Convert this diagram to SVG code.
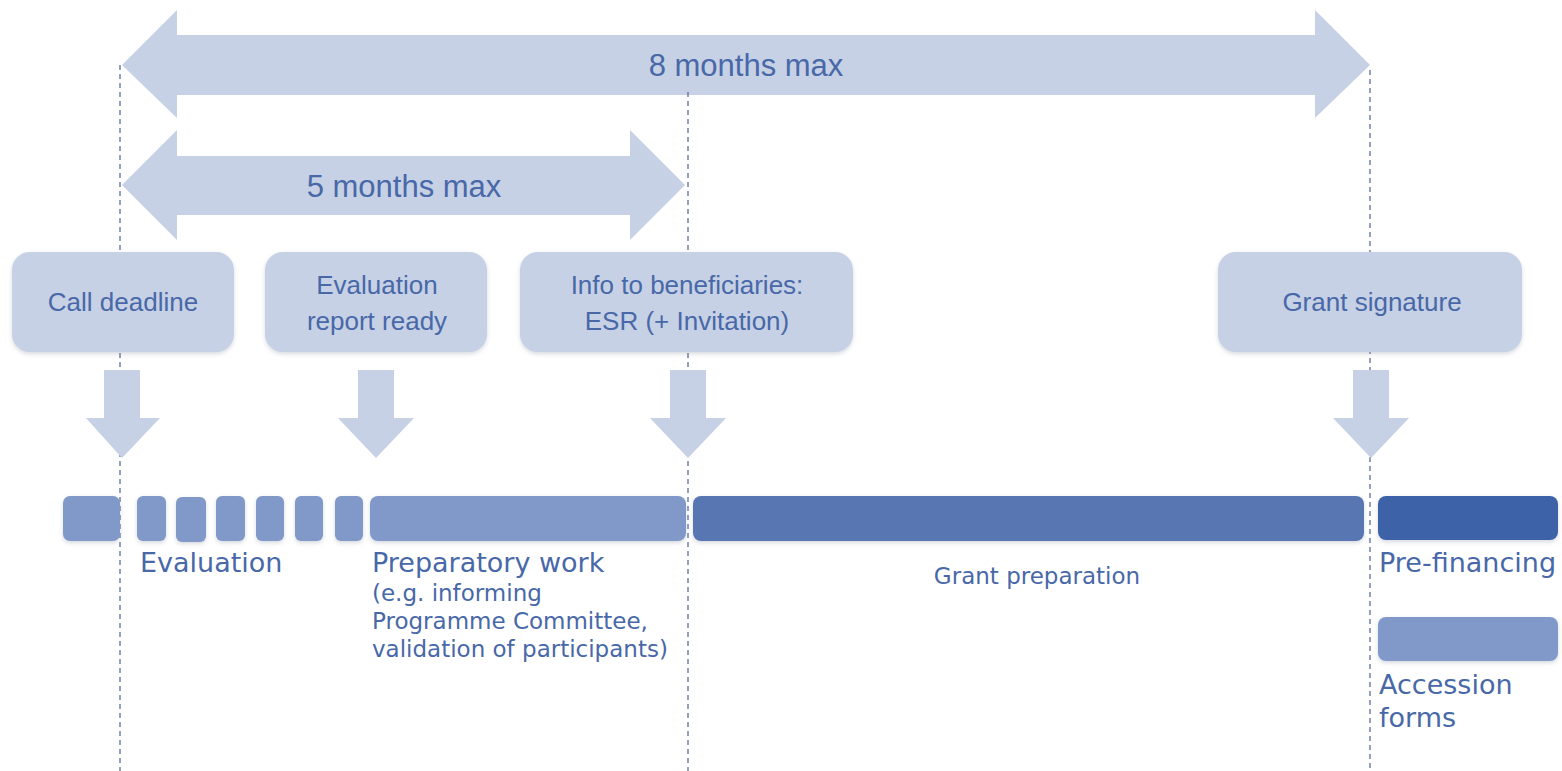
<svg xmlns="http://www.w3.org/2000/svg" width="1562" height="771" viewBox="0 0 1562 771">
<style>
.light{fill:#c6d1e5}
.box{fill:#c6d1e5}
.btxt{font-family:"Liberation Sans",Arial,sans-serif;font-size:26px;fill:#4868a8;text-anchor:middle}
.atxt{font-family:"Liberation Sans",Arial,sans-serif;font-size:31px;fill:#4868a8;text-anchor:middle}
.ltxt{font-family:"DejaVu Sans",Verdana,sans-serif;font-size:27px;fill:#4868a8}
.stxt{font-family:"DejaVu Sans",Verdana,sans-serif;font-size:23px;fill:#4868a8}
.dash{stroke:#5a6e9c;stroke-width:1.3;stroke-dasharray:5,4;fill:none}
.b1{fill:#8199c9}
.b2{fill:#5877b2}
.b3{fill:#3d62a8}
</style>
<defs>
<filter id="sh" x="-10%" y="-10%" width="120%" height="130%">
<feDropShadow dx="0" dy="2" stdDeviation="2" flood-color="#8a93a6" flood-opacity="0.35"/>
</filter>
</defs>
<rect width="1562" height="771" fill="#ffffff"/>

<g id="arrow-8months">
<polygon class="light" points="122,65 177,10 177,35 1315,35 1315,10 1370,65 1315,118 1315,95 177,95 177,118"/>
<text class="atxt" x="746" y="76">8 months max</text>
</g>
<g id="arrow-5months">
<polygon class="light" points="122,185 177,130 177,156 630,156 630,130 685,185 630,240 630,215 177,215 177,240"/>
<text class="atxt" x="404" y="197">5 months max</text>
</g>

<g id="connectors">
<line class="dash" x1="120" y1="65" x2="120" y2="771"/>
<line class="dash" x1="688" y1="92" x2="688" y2="771"/>
<line class="dash" x1="1370" y1="70" x2="1370" y2="771"/>
</g>

<g id="node-call-deadline">
<rect class="box" x="12" y="252" width="222" height="100" rx="18" filter="url(#sh)"/>
<text class="btxt" x="123" y="311">Call deadline</text>
<polygon class="light" points="104,370 140,370 140,418 160,418 122,458 86,418 104,418"/>
</g>
<g id="node-evaluation-report">
<rect class="box" x="265" y="252" width="222" height="100" rx="18" filter="url(#sh)"/>
<text class="btxt" x="377" y="294">Evaluation</text>
<text class="btxt" x="377" y="330">report ready</text>
<polygon class="light" points="358,370 394,370 394,418 414,418 376,458 338,418 358,418"/>
</g>
<g id="node-info-beneficiaries">
<rect class="box" x="520" y="252" width="333" height="100" rx="18" filter="url(#sh)"/>
<text class="btxt" x="687" y="294">Info to beneficiaries:</text>
<text class="btxt" x="687" y="330">ESR (+ Invitation)</text>
<polygon class="light" points="670,370 706,370 706,418 726,418 688,458 650,418 670,418"/>
</g>
<g id="node-grant-signature">
<rect class="box" x="1218" y="252" width="304" height="100" rx="18" filter="url(#sh)"/>
<text class="btxt" x="1372" y="311">Grant signature</text>
<polygon class="light" points="1353,370 1389,370 1389,418 1409,418 1371,458 1333,418 1353,418"/>
</g>

<g id="bar-start">
<rect class="b1" x="63" y="496" width="57" height="45" rx="7" filter="url(#sh)"/>
</g>
<g id="bar-evaluation">
<rect class="b1" x="137" y="496" width="29" height="45" rx="6" filter="url(#sh)"/>
<rect class="b1" x="176" y="497" width="30" height="45" rx="6" filter="url(#sh)"/>
<rect class="b1" x="216" y="496" width="29" height="45" rx="6" filter="url(#sh)"/>
<rect class="b1" x="256" y="496" width="28" height="45" rx="6" filter="url(#sh)"/>
<rect class="b1" x="295" y="496" width="28" height="45" rx="6" filter="url(#sh)"/>
<rect class="b1" x="335" y="496" width="28" height="45" rx="6" filter="url(#sh)"/>
<text class="ltxt" x="140" y="572">Evaluation</text>
</g>
<g id="bar-preparatory">
<rect class="b1" x="370" y="496" width="316" height="45" rx="8" filter="url(#sh)"/>
<text class="ltxt" x="372" y="572">Preparatory work</text>
<text class="stxt" x="372" y="601">(e.g. informing</text>
<text class="stxt" x="372" y="629">Programme Committee,</text>
<text class="stxt" x="372" y="657">validation of participants)</text>
</g>
<g id="bar-grant-preparation">
<rect class="b2" x="693" y="496" width="671" height="45" rx="8" filter="url(#sh)"/>
<text class="stxt" x="1037" y="584" text-anchor="middle">Grant preparation</text>
</g>
<g id="bar-prefinancing">
<rect class="b3" x="1378" y="496" width="180" height="44" rx="8" filter="url(#sh)"/>
<text class="ltxt" x="1379" y="572">Pre-financing</text>
</g>
<g id="bar-accession">
<rect class="b1" x="1378" y="617" width="180" height="44" rx="8" filter="url(#sh)"/>
<text class="ltxt" x="1379" y="694">Accession</text>
<text class="ltxt" x="1379" y="727">forms</text>
</g>
</svg>
